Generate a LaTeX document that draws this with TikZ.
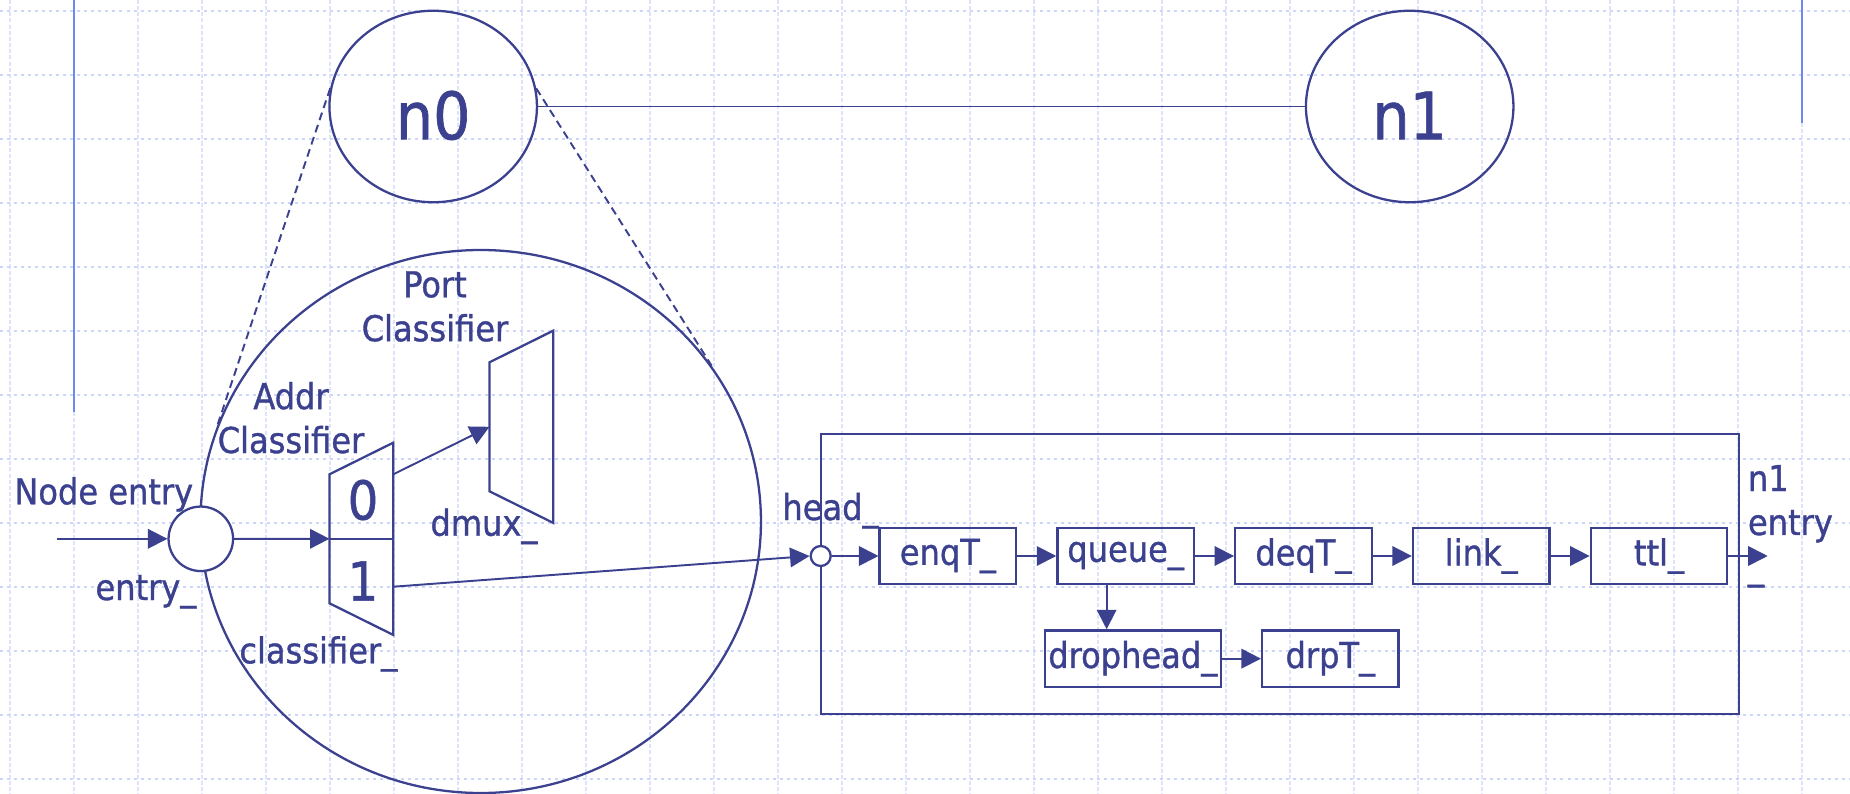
\documentclass[tikz,border=0pt]{standalone}
\usepackage{fontspec}
\setmainfont{DejaVu Sans Condensed}[FakeBold=1]
\usepackage{tikz}
\usetikzlibrary{shapes.geometric, positioning, arrows.meta}

\definecolor{tinta}{HTML}{3B418F}
\definecolor{rejilla}{HTML}{CCD6FA}
\definecolor{rejillav}{HTML}{DCE3FB}
\definecolor{guia}{HTML}{6F87F2}

\newcommand{\lbl}{\fontsize{20.3}{25}\selectfont}

\tikzset{
  wire/.style={tinta, line width=1.1pt},
  arrow/.style={wire, -{Triangle[length=0.39cm, width=0.39cm]}},
  agent/.style={ellipse, draw=tinta, line width=1.3pt, minimum width=4.15cm, minimum height=3.83cm, text=tinta, font=\fontsize{37.2}{40}\selectfont, text height=1.31cm, text depth=0pt, inner sep=0pt},
  block/.style={rectangle, draw=tinta, line width=1.3pt, minimum width=2.73cm, minimum height=1.13cm, text=tinta, font=\lbl, inner sep=0pt},
  port/.style={circle, draw=tinta, fill=white, line width=1.3pt, inner sep=0pt},
  lbl/.style={text=tinta, font=\lbl, inner sep=0pt},
  digit/.style={text=tinta, font=\fontsize{30.5}{33}\selectfont, inner sep=0pt},
  gridh/.style={rejilla, line width=1.1pt, dash pattern=on 1.7pt off 2.3pt},
  gridv/.style={rejillav, line width=1.1pt, dash pattern=on 2.3pt off 1.2pt}
}

% Clasificador (trapecio), esquina superior izquierda en (0,0)
\newcommand{\clasificador}[1]{
    \draw[wire, line width=1.3pt] (0,0) coordinate (#1 lt) -- (1.276,0.633) coordinate (#1 rt)
        -- (1.276,-3.213) coordinate (#1 rb) -- (0,-2.58) coordinate (#1 lb) -- cycle;
    \coordinate (#1 in) at (0,-1.29);
}

\begin{document}
\begin{tikzpicture}[>=latex]
    \useasboundingbox (0,0) rectangle (37,-15.88);

    % Rejilla de fondo
    \foreach \k in {0,...,28}
        \draw[gridv] ({0.2+1.28*\k},0) -- ({0.2+1.28*\k},-15.88);
    \foreach \k in {0,...,12}
        \draw[gridh] (0,{-0.214-1.28*\k}) -- (37,{-0.214-1.28*\k});
    \draw[guia, line width=1.2pt] (1.48,0) -- (1.48,-8.24);
    \draw[guia, line width=1.2pt] (36.04,0) -- (36.04,-2.47);

    % 1. Nodos n0 y n1
    \node[agent] (n0) at (8.664,-2.13) {n0};
    \node[agent] (n1) at (28.194,-2.13) {n1};
    \draw[wire] (n0.east) -- (n1.west);

    % 2. Vista ampliada de n0
    \node[ellipse, draw=tinta, line width=1.3pt, minimum width=11.21cm, minimum height=10.86cm] (vista) at (9.614,-10.43) {};
    \draw[wire, dash pattern=on 4.5pt off 2.8pt] (n0.170) -- (vista.160);
    \draw[wire, dash pattern=on 4.5pt off 2.8pt] (n0.10) -- (vista.34.5);

    % Entrada del nodo
    \node[port, minimum size=1.29cm] (entry) at (4.016,-10.776) {};
    \coordinate (src) at (1.13,-10.776);
    \draw[arrow] (src) -- (entry.west);
    \node[lbl, anchor=base] (nodeentry) at (2.075,-10.086) {Node entry};
    \node[lbl, anchor=base] (entrylbl) at (2.918,-12.0) {entry\_};

    % Clasificador de direcciones
    \begin{scope}[xshift=6.59cm, yshift=-9.486cm]
        \clasificador{addr}
        \draw[wire] (addr in) -- (1.276,-1.29);
        \coordinate (addr out0) at (1.276,0);
        \coordinate (addr out1) at (1.276,-2.248);
        \node[digit] (d0) at (0.67,-0.514) {0};
        \node[digit] (d1) at (0.67,-2.134) {1};
    \end{scope}
    \node[lbl, align=center] (addrlbl) at (5.82,-8.355) {Addr\\Classifier};
    \node[lbl, anchor=base] (clslbl) at (6.366,-13.266) {classifier\_};
    \draw[arrow] (entry.east) -- (addr in);

    % Clasificador de puertos
    \begin{scope}[xshift=9.79cm, yshift=-7.246cm]
        \clasificador{port}
    \end{scope}
    \node[lbl, align=center] (portlbl) at (8.7,-6.13) {Port\\Classifier};
    \node[lbl, anchor=base] (dmuxlbl) at (9.68,-10.714) {dmux\_};
    \draw[arrow] (addr out0) -- (port in);

    % 3. Enlace n0 -> n1
    \node[draw=tinta, line width=1.3pt, minimum width=18.356cm, minimum height=5.6cm, inner sep=0pt] (linkbox) at (25.598,-11.486) {};
    \node[port, minimum size=0.4cm] (head) at (16.414,-11.12) {};
    \node[lbl, anchor=base] (headlbl) at (16.61,-10.4) {head\_};
    \draw[arrow] (addr out1) -- (head.west);

    \node[block] (enq) at (18.957,-11.12) {enqT\_};
    \node[block, right=0.78cm of enq] (queue) {queue\_};
    \node[block, right=0.78cm of queue] (deq) {deqT\_};
    \node[block, right=0.78cm of deq] (link) {link\_};
    \node[block, right=0.78cm of link] (ttl) {ttl\_};
    \node[block, minimum width=3.52cm] (drophead) at (22.656,-13.173) {drophead\_};
    \node[block, right=0.78cm of drophead] (drp) {drpT\_};

    \draw[arrow] (head.east) -- (enq.west);
    \foreach \a/\b in {enq/queue, queue/deq, deq/link, link/ttl, drophead/drp}
        \draw[arrow] (\a.east) -- (\b.west);
    \coordinate (qdrop) at ([xshift=-0.38cm]queue.south);
    \draw[arrow] (qdrop) -- (qdrop |- drophead.north);

    % Salida hacia n1
    \coordinate (out) at (35.354,-11.12);
    \draw[arrow] (ttl.east) -- (out);
    \node[lbl, align=left, anchor=north west] (n1entry) at (34.952,-9.294) {n1\\entry\\\_};

\end{tikzpicture}
\end{document}
